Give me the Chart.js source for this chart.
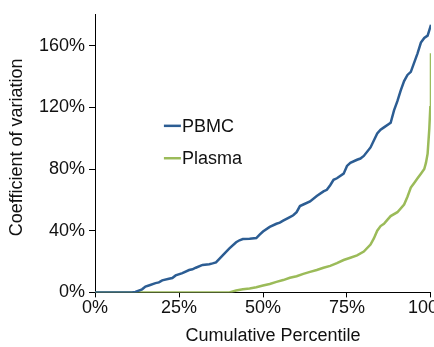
<!DOCTYPE html>
<html>
<head>
<meta charset="utf-8">
<script src="https://cdn.jsdelivr.net/npm/chart.js@4"></script>
<style>
  html, body { margin: 0; padding: 0; background: #fff; overflow: hidden; }
  #wrap { width: 454px; height: 347px; }
</style>
</head>
<body>
<div id="wrap"><canvas id="cv" width="454" height="347"></canvas></div>
<script>
// Cumulative percentile (x) and coefficient of variation in % (y) for each sample type
const pbmcPctl = [0, 4, 8, 11, 12, 14, 15, 16, 18, 19, 20, 22, 23, 24, 26, 28, 29, 30, 32, 34, 35, 36, 38, 40, 42, 43, 44, 46, 48, 49, 50, 52, 54, 55, 56, 58, 59, 60, 61, 62, 64, 66, 68, 69, 70, 71, 72, 74, 75, 76, 78, 79, 80, 82, 84, 85, 86, 88, 89, 90, 91, 92, 93, 94, 95, 96, 97, 98, 99, 100];
const pbmcCV   = [0, 0, 0, 0, 0.3, 2, 3.8, 4.5, 6, 6.5, 7.8, 8.8, 9.3, 11, 12.5, 14.5, 15, 16, 17.8, 18.3, 18.8, 19.5, 24, 28.5, 32.5, 33.8, 34.6, 34.8, 35.2, 37.5, 39.5, 42.5, 44.5, 45.2, 46.5, 48.8, 50, 52, 56, 57, 59, 62.5, 65.5, 66.5, 69.5, 73, 74, 77, 82, 84, 86, 86.8, 88.5, 94, 103, 105.5, 107, 110, 118, 124, 131, 137, 141, 143, 149, 155, 162, 165, 166.5, 173.5];

const plasmaPctl = [0, 10, 20, 30, 40, 42, 44, 46, 48, 50, 52, 54, 56, 58, 60, 62, 64, 66, 68, 70, 72, 74, 76, 78, 80, 82, 83, 84, 85, 86, 87, 88, 90, 92, 93, 94, 95, 96, 97, 98, 98.5, 99, 99.5, 99.8, 100];
const plasmaCV   = [0, 0, 0, 0, 0, 1.2, 2, 2.5, 3.3, 4.5, 5.5, 6.8, 8, 9.5, 10.5, 12, 13.3, 14.5, 16, 17.2, 19, 21, 22.5, 24, 26.5, 31, 35, 40, 43, 44.5, 47, 49.5, 52, 57, 62, 68, 71, 74, 77, 80, 84, 90, 106, 120, 155];

const seriesNames = ['PBMC', 'Plasma'];
const seriesColors = ['#2c5d93', '#9bbb59'];
const xTicks = [0, 25, 50, 75, 100];
const yTicks = [0, 40, 80, 120, 160];
const xTitle = 'Cumulative Percentile';
const yTitle = 'Coefficient of variation';

const FONT = 'Liberation Sans, Arial, sans-serif';
const FS = 18;

function toPoints(xs, ys) {
  return xs.map((x, i) => ({ x: x, y: ys[i] }));
}

// Axis titles and the in-plot legend
const annotations = {
  id: 'annotations',
  afterDatasetsDraw(chart) {
    const ctx = chart.ctx;
    const xs = chart.scales.x, ys = chart.scales.y;
    ctx.save();
    ctx.font = FS + 'px ' + FONT;
    ctx.fillStyle = '#111';

    // legend
    const x0 = xs.getPixelForValue(20.5);
    const rows = [108, 87];
    ctx.textBaseline = 'middle';
    ctx.textAlign = 'left';
    seriesNames.forEach((name, i) => {
      const y = ys.getPixelForValue(rows[i]);
      ctx.strokeStyle = seriesColors[i];
      ctx.lineWidth = 2.5;
      ctx.beginPath();
      ctx.moveTo(x0, y);
      ctx.lineTo(x0 + 17, y);
      ctx.stroke();
      ctx.fillText(name, x0 + 18, y + 1);
    });

    // x title
    ctx.textAlign = 'center';
    ctx.fillText(xTitle, xs.getPixelForValue(53), chart.chartArea.bottom + 44);

    // y title
    ctx.translate(17, ys.getPixelForValue(94));
    ctx.rotate(-Math.PI / 2);
    ctx.fillText(yTitle, 0, 0);
    ctx.restore();
  }
};

new Chart(document.getElementById('cv'), {
  type: 'line',
  data: {
    datasets: [
      {
        label: seriesNames[0],
        data: toPoints(pbmcPctl, pbmcCV),
        borderColor: seriesColors[0],
        borderWidth: 2.5,
        pointRadius: 0,
        tension: 0
      },
      {
        label: seriesNames[1],
        data: toPoints(plasmaPctl, plasmaCV),
        borderColor: seriesColors[1],
        borderWidth: 2.5,
        pointRadius: 0,
        tension: 0
      }
    ]
  },
  options: {
    responsive: false,
    animation: false,
    layout: { padding: { left: 35, top: 13, right: 0, bottom: 28 } },
    plugins: { legend: { display: false }, tooltip: { enabled: false } },
    scales: {
      x: {
        type: 'linear',
        min: 0, max: 100,
        afterBuildTicks(scale) { scale.ticks = xTicks.map(v => ({ value: v })); },
        ticks: {
          callback: v => v + '%',
          font: { family: FONT, size: FS },
          color: '#111',
          padding: 0,
          maxRotation: 0
        },
        grid: { display: true, drawOnChartArea: false, drawTicks: true, tickLength: 5, color: '#000', tickColor: '#000' },
        border: { display: true, color: '#000', width: 1 }
      },
      y: {
        type: 'linear',
        min: 0, max: 180,
        afterBuildTicks(scale) { scale.ticks = yTicks.map(v => ({ value: v })); },
        ticks: {
          callback: v => v + '%',
          font: { family: FONT, size: FS },
          color: '#111',
          padding: 4
        },
        grid: { display: true, drawOnChartArea: false, drawTicks: true, tickLength: 6, color: '#000', tickColor: '#000' },
        border: { display: true, color: '#000', width: 1 }
      }
    }
  },
  plugins: [annotations]
});
</script>
</body>
</html>
